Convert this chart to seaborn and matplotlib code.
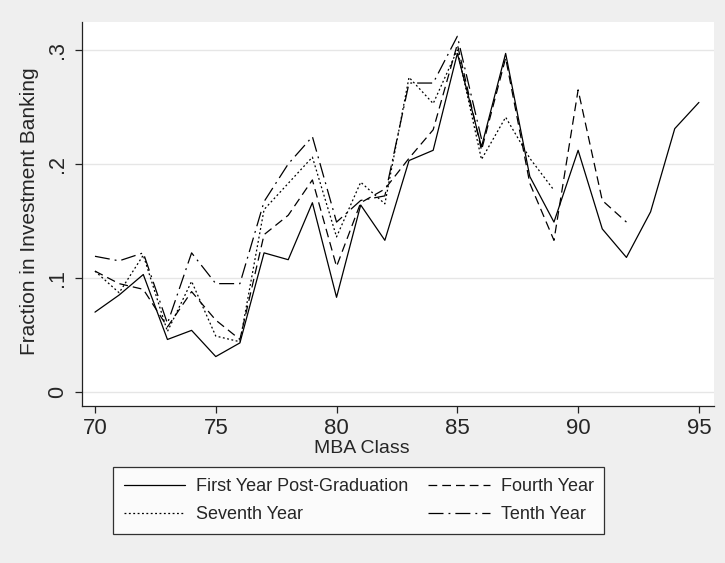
import matplotlib
matplotlib.use("Agg")
import matplotlib.pyplot as plt
import seaborn as sns
import pandas as pd
import numpy as np

years = list(range(70, 96))
first_year = [0.070, 0.085, 0.103, 0.046, 0.054, 0.031, 0.043, 0.122, 0.116, 0.166,
              0.083, 0.164, 0.133, 0.203, 0.212, 0.297, 0.215, 0.297, 0.189, 0.149,
              0.212, 0.143, 0.118, 0.158, 0.231, 0.254]
fourth_year = [0.106, 0.095, 0.090, 0.057, 0.088, 0.063, 0.046, 0.138, 0.155, 0.186,
               0.110, 0.166, 0.178, 0.205, 0.230, 0.305, 0.212, 0.293, 0.183, 0.133,
               0.265, 0.168, 0.149]
seventh_year = [0.106, 0.087, 0.120, 0.053, 0.097, 0.049, 0.044, 0.160, 0.183, 0.206,
                0.136, 0.184, 0.165, 0.276, 0.253, 0.300, 0.204, 0.241, 0.205, 0.177]
tenth_year = [0.119, 0.115, 0.122, 0.060, 0.122, 0.095, 0.095, 0.167, 0.200, 0.224,
              0.149, 0.168, 0.172, 0.271, 0.271, 0.312, 0.222]

series_names = ["First Year Post-Graduation", "Fourth Year", "Seventh Year", "Tenth Year"]
series_vals = [first_year, fourth_year, seventh_year, tenth_year]
x_ticks = [70, 75, 80, 85, 90, 95]
y_ticks = [0, 0.1, 0.2, 0.3]
y_ticklabels = ["0", ".1", ".2", ".3"]

sns.set_theme(style="white")
plt.rcParams['font.family'] = ['Liberation Sans', 'DejaVu Sans']

bg = "#EFEFEF"
fig = plt.figure(figsize=(7.25, 5.63), dpi=100, facecolor=bg)
ax = fig.add_axes([0.113, 0.279, 0.872, 0.682])
ax.set_facecolor("white")

styles = {
    "First Year Post-Graduation": None,
    "Fourth Year": (0, (7, 4)),
    "Seventh Year": (0, (1.5, 2)),
    "Tenth Year": (0, (12, 4, 1.5, 4)),
}

for name, vals in zip(series_names, series_vals):
    df = pd.DataFrame({"MBA Class": years[:len(vals)], "val": vals})
    ls = styles[name]
    sns.lineplot(data=df, x="MBA Class", y="val", ax=ax, color="black",
                 linewidth=0.9, label=name,
                 linestyle="-" if ls is None else ls)

ax.set_xlim(69.46, 95.63)
ax.set_ylim(-0.0123, 0.3246)
ax.set_yticks(y_ticks)
ax.set_yticklabels(y_ticklabels, rotation=90, va="center")
ax.set_xticks(x_ticks)
ax.grid(axis="y", color="#E6E6E6", linewidth=1.0)
ax.grid(axis="x", visible=False)
for s in ["top", "right"]:
    ax.spines[s].set_visible(False)
for s in ["left", "bottom"]:
    ax.spines[s].set_color("#222222")
    ax.spines[s].set_linewidth(0.9)
ax.tick_params(axis="both", which="major", direction="out", length=5, width=0.9,
               color="#222222", bottom=True, left=True)
ax.tick_params(axis="x", labelsize=16, pad=4)
ax.tick_params(axis="y", labelsize=15.5, pad=5)

ax.set_xlabel("MBA Class", fontsize=14)
ax.set_ylabel("Fraction in Investment Banking", fontsize=15)
ax.xaxis.set_label_coords(0.443, -0.088)
ax.yaxis.set_label_coords(-0.068, 0.506)

leg_handles, leg_labels = ax.get_legend_handles_labels()
ax.get_legend().remove()
order = [0, 2, 1, 3]
leg = fig.legend([leg_handles[i] for i in order], [leg_labels[i] for i in order],
                 loc="center", bbox_to_anchor=(0.495, 0.111),
                 ncol=2, fontsize=13, frameon=True, fancybox=False,
                 edgecolor="black", facecolor="white", handlelength=3.4,
                 borderpad=0.6, labelspacing=0.6, handletextpad=0.6,
                 columnspacing=1.1, borderaxespad=0)
leg.get_frame().set_linewidth(0.9)

fig.savefig("out.png", dpi=100, facecolor=bg)
